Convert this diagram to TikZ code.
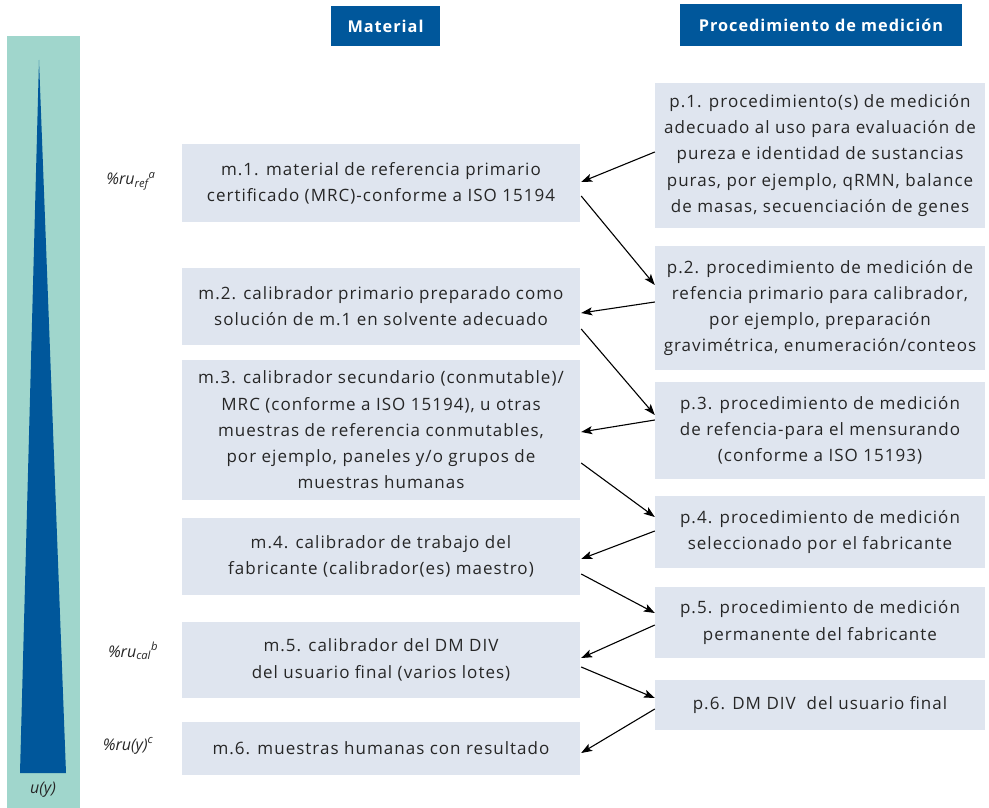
\documentclass[tikz,border=0pt]{standalone}
\usepackage{fontspec}
\setmainfont{Open Sans}
\newfontfamily\trackfont[LetterSpace=6]{Open Sans}
\usetikzlibrary{arrows.meta}
\definecolor{teal}{HTML}{A0D6CC}
\definecolor{dblue}{HTML}{00579B}
\definecolor{boxbg}{HTML}{DFE5EF}
\tikzset{
  mbox/.style={rectangle, fill=boxbg, minimum width=398pt, align=center, inner sep=0pt,
    font=\trackfont\fontsize{17}{26.3}\selectfont, text=black!85},
  pbox/.style={rectangle, fill=boxbg, minimum width=330pt, align=center, inner sep=0pt,
    font=\trackfont\fontsize{17}{26.3}\selectfont, text=black!85},
  hdr/.style={rectangle, fill=dblue, text=white, inner sep=0pt, font=\trackfont\fontsize{16.3}{18}\selectfont\bfseries},
  lbl/.style={font=\fontsize{16}{18}\selectfont\itshape, text=black!85},
  arr/.style={-{Stealth[length=11pt,width=8pt,inset=2.5pt]}, line width=1.1pt}
}
\begin{document}
\begin{tikzpicture}[x=1pt,y=-1pt]
\useasboundingbox (0,0) rectangle (989,808);
% uncertainty bar
\fill[teal] (7,36) rectangle (80,808);
\fill[dblue] (39,60) -- (66,773) -- (20,773) -- cycle;
\node[lbl] (uy) at (43,790) {u(y)};
% headers
\node[hdr, minimum width=109pt, minimum height=40pt] (hm) at (385.5,26) {Material};
\node[hdr, minimum width=282pt, minimum height=42pt] (hp) at (821,25) {Procedimiento de medición};
% material boxes
\node[mbox, minimum height=78pt] (m1) at (381,183) {m.1. material de referencia primario\\certificado (MRC)-conforme a ISO 15194};
\node[mbox, minimum height=77pt] (m2) at (381,306.5) {m.2. calibrador primario preparado como\\solución de m.1 en solvente adecuado};
\node[mbox, minimum height=140pt] (m3) at (381,430) {m.3. calibrador secundario (conmutable)/\\MRC (conforme a ISO 15194), u otras\\muestras de referencia conmutables,\\por ejemplo, paneles y/o grupos de\\muestras humanas};
\node[mbox, minimum height=77pt] (m4) at (381,556.5) {m.4. calibrador de trabajo del\\fabricante (calibrador(es) maestro)};
\node[mbox, minimum height=76pt] (m5) at (381,660) {m.5. calibrador del DM DIV\\del usuario final (varios lotes)};
\node[mbox, minimum height=53pt] (m6) at (381,748.5) {m.6. muestras humanas con resultado};
% procedure boxes
\node[pbox, minimum height=145pt] (p1) at (820,155.5) {p.1. procedimiento(s) de medición\\adecuado al uso para evaluación de\\pureza e identidad de sustancias\\puras, por ejemplo, qRMN, balance\\de masas, secuenciación de genes};
\node[pbox, minimum height=124pt] (p2) at (820,308) {p.2. procedimiento de medición de\\refencia primario para calibrador,\\por ejemplo, preparación\\gravimétrica, enumeración/conteos};
\node[pbox, minimum height=97pt] (p3) at (820,430.5) {p.3. procedimiento de medición\\de refencia-para el mensurando\\(conforme a ISO 15193)};
\node[pbox, minimum height=72pt] (p4) at (820,532) {p.4. procedimiento de medición\\seleccionado por el fabricante};
\node[pbox, minimum height=71pt] (p5) at (820,622.5) {p.5. procedimiento de medición\\permanente del fabricante};
\node[pbox, minimum height=50pt] (p6) at (820,705) {p.6. DM DIV\ \ del usuario final};
% left labels
\node[lbl] (l1) at (131,181) {\%ru\textsubscript{ref}\textsuperscript{a}};
\node[lbl] (l2) at (133,651) {\%ru\textsubscript{cal}\textsuperscript{b}};
\node[lbl] (l3) at (128,746) {\%ru(y)\textsuperscript{c}};
% arrows
\draw[arr] ([yshift=3.5pt]p1.west) -- ([xshift=1pt,yshift=1pt]m1.east);
\draw[arr] ([xshift=1pt,yshift=-13pt]m1.east) -- ([yshift=23pt]p2.west);
\draw[arr] ([yshift=6pt]p2.west) -- ([xshift=1pt,yshift=-6.5pt]m2.east);
\draw[arr] ([xshift=1pt,yshift=-22.5pt]m2.east) -- ([yshift=15.5pt]p3.west);
\draw[arr] ([yshift=10.5pt]p3.west) -- ([xshift=1pt,yshift=-2pt]m3.east);
\draw[arr] ([xshift=1pt,yshift=-33pt]m3.east) -- ([yshift=15pt]p4.west);
\draw[arr] ([yshift=1pt]p4.west) -- ([xshift=1pt,yshift=-2.5pt]m4.east);
\draw[arr] ([xshift=1pt,yshift=-17.5pt]m4.east) -- ([yshift=9.5pt]p5.west);
\draw[arr] ([yshift=-2.5pt]p5.west) -- ([xshift=1pt,yshift=2pt]m5.east);
\draw[arr] ([xshift=1pt,yshift=-7pt]m5.east) -- ([yshift=7pt]p6.west);
\draw[arr] ([yshift=-4pt]p6.west) -- ([xshift=1pt,yshift=-4.5pt]m6.east);
\end{tikzpicture}
\end{document}
